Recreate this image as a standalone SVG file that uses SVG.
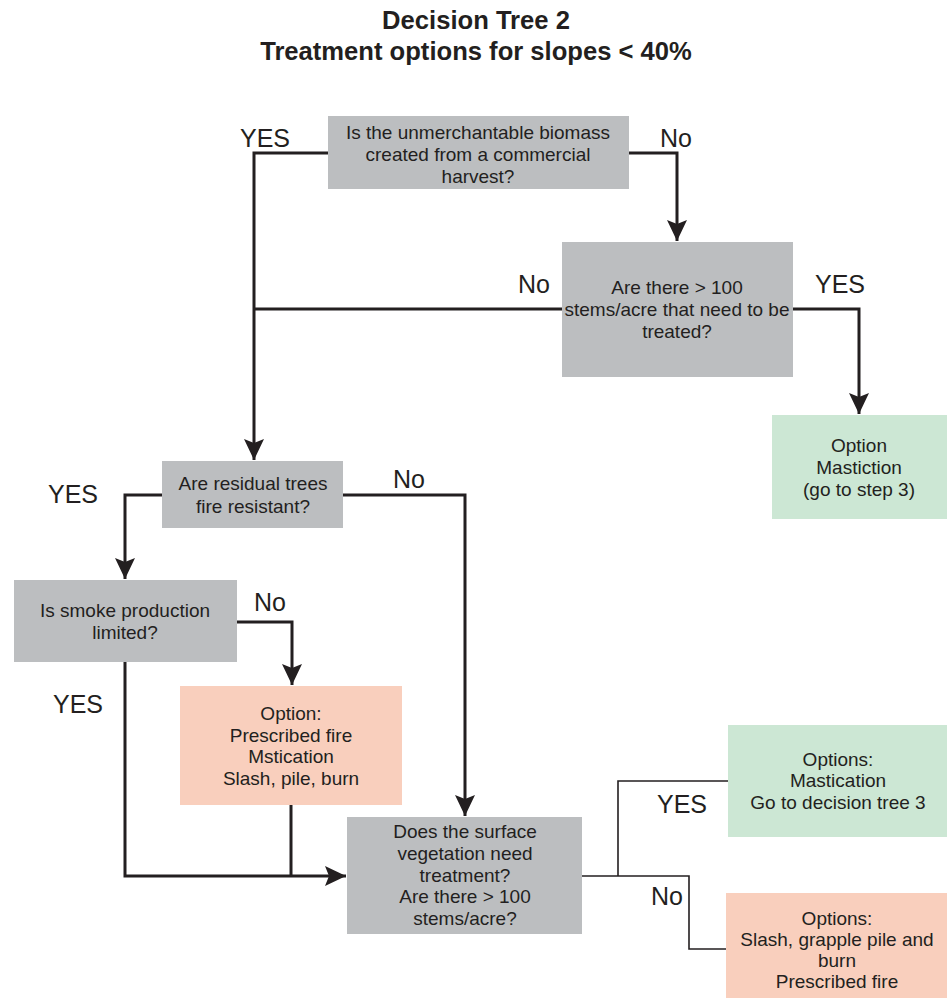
<svg xmlns="http://www.w3.org/2000/svg" width="952" height="998" viewBox="0 0 952 998">
<style>
.t{font-family:"Liberation Sans",Arial,sans-serif;font-size:19px;fill:#231f20;text-anchor:middle}
.lbl{font-family:"Liberation Sans",Arial,sans-serif;font-size:25px;fill:#231f20}
.title{font-family:"Liberation Sans",Arial,sans-serif;font-size:25.6px;font-weight:bold;fill:#231f20;text-anchor:middle}
.gray{fill:#bcbec0}
.green{fill:#cce7d4}
.salmon{fill:#f9cfbd}
.c{fill:none;stroke:#231f20;stroke-width:3}
.thin{fill:none;stroke:#231f20;stroke-width:1.6}
</style>
<defs>
<marker id="arr" markerUnits="userSpaceOnUse" markerWidth="22" markerHeight="20" refX="21" refY="10" orient="auto">
<path d="M0,0 L21,10 L0,20 L4,10 z" fill="#231f20"/>
</marker>
</defs>
<rect width="952" height="998" fill="#ffffff"/>
<text class="title" x="476" y="29">Decision Tree 2</text>
<text class="title" x="476" y="60">Treatment options for slopes &lt; 40%</text>

<g id="connectors">
<polyline class="c" points="328,153 254,153 254,460" marker-end="url(#arr)"/>
<polyline class="c" points="629,153 677,153 677,241" marker-end="url(#arr)"/>
<polyline class="c" points="562,309 254,309"/>
<polyline class="c" points="793,309 859,309 859,414" marker-end="url(#arr)"/>
<polyline class="c" points="162,495 125,495 125,579" marker-end="url(#arr)"/>
<polyline class="c" points="343,495 465,495 465,816" marker-end="url(#arr)"/>
<polyline class="c" points="237,622 292,622 292,685" marker-end="url(#arr)"/>
<polyline class="c" points="125,662 125,876 346,876" marker-end="url(#arr)"/>
<polyline class="c" points="291,805 291,876"/>
<polyline class="thin" points="582,876 689,876 689,949 726,949"/>
<polyline class="thin" points="618,876 618,781 728,781"/>
<text class="lbl" x="240" y="147">YES</text>
<text class="lbl" x="660" y="147">No</text>
<text class="lbl" x="518" y="293">No</text>
<text class="lbl" x="815" y="293">YES</text>
<text class="lbl" x="48" y="503">YES</text>
<text class="lbl" x="393" y="488">No</text>
<text class="lbl" x="254" y="611">No</text>
<text class="lbl" x="53" y="713">YES</text>
<text class="lbl" x="657" y="813">YES</text>
<text class="lbl" x="651" y="905">No</text>
</g>

<g id="q1">
<rect class="gray" x="328" y="116" width="301" height="73"/>
<text class="t" x="478" y="139">Is the unmerchantable biomass</text>
<text class="t" x="478" y="161">created from a commercial</text>
<text class="t" x="478" y="183">harvest?</text>
</g>
<g id="q2">
<rect class="gray" x="562" y="242" width="231" height="135"/>
<text class="t" x="677" y="294">Are there &gt; 100</text>
<text class="t" x="677" y="316">stems/acre that need to be</text>
<text class="t" x="677" y="338">treated?</text>
</g>
<g id="opt-mastiction">
<rect class="green" x="772" y="415" width="175" height="104"/>
<text class="t" x="859" y="452">Option</text>
<text class="t" x="859" y="474">Mastiction</text>
<text class="t" x="859" y="496">(go to step 3)</text>
</g>
<g id="q3">
<rect class="gray" x="162" y="461" width="181" height="67"/>
<text class="t" x="253" y="490">Are residual trees</text>
<text class="t" x="253" y="513">fire resistant?</text>
</g>
<g id="q4">
<rect class="gray" x="14" y="580" width="223" height="82"/>
<text class="t" x="125" y="617">Is smoke production</text>
<text class="t" x="125" y="639">limited?</text>
</g>
<g id="opt-fire">
<rect class="salmon" x="180" y="686" width="222" height="119"/>
<text class="t" x="291" y="720">Option:</text>
<text class="t" x="291" y="742">Prescribed fire</text>
<text class="t" x="291" y="763">Mstication</text>
<text class="t" x="291" y="785">Slash, pile, burn</text>
</g>
<g id="q5">
<rect class="gray" x="347" y="817" width="235" height="117"/>
<text class="t" x="465" y="838">Does the surface</text>
<text class="t" x="465" y="860">vegetation need</text>
<text class="t" x="465" y="882">treatment?</text>
<text class="t" x="465" y="903">Are there &gt; 100</text>
<text class="t" x="465" y="925">stems/acre?</text>
</g>
<g id="opt-mastication">
<rect class="green" x="728" y="725" width="219" height="112"/>
<text class="t" x="838" y="766">Options:</text>
<text class="t" x="838" y="787">Mastication</text>
<text class="t" x="838" y="809">Go to decision tree 3</text>
</g>
<g id="opt-slash">
<rect class="salmon" x="726" y="893" width="221" height="105"/>
<text class="t" x="837" y="925">Options:</text>
<text class="t" x="837" y="946">Slash, grapple pile and</text>
<text class="t" x="837" y="967">burn</text>
<text class="t" x="837" y="988">Prescribed fire</text>
</g>
</svg>
